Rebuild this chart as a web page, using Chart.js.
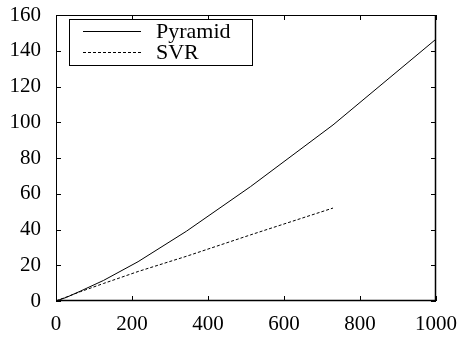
<!DOCTYPE html>
<html><head><meta charset="utf-8">
<script src="https://cdn.jsdelivr.net/npm/chart.js@4/dist/chart.umd.min.js"></script>
<style>html,body{margin:0;padding:0;background:#fff;}#wrap{width:462px;height:343px;}</style>
</head><body><div id="wrap"><canvas id="c" width="462" height="343"></canvas></div>
<script>
const pyramidX = [0, 8, 27, 64, 125, 216, 343, 512, 729, 1000];
const pyramidY = [0, 0.6, 2, 5.5, 11.5, 22, 39, 64, 98.5, 146.5];
const svrX = [0, 8, 27, 64, 125, 216, 343, 512, 729];
const svrY = [0, 0.7, 2.2, 5.2, 9.8, 16.5, 25, 37, 52];
const xTicks = [0, 200, 400, 600, 800, 1000];
const yTicks = [0, 20, 40, 60, 80, 100, 120, 140, 160];
const seriesNames = ["Pyramid", "SVR"];

const FONT = "'Liberation Serif','Times New Roman',serif";

const frame = {
  id: 'frame',
  afterDraw(chart) {
    const {ctx, chartArea: a, scales: {x, y}} = chart;
    ctx.save();
    ctx.strokeStyle = '#000';
    ctx.lineWidth = 1;
    ctx.strokeRect(a.left + 0.5, a.top + 0.5, a.right - a.left - 1, a.bottom - a.top - 1);
    ctx.lineWidth = 1.5;
    ctx.beginPath();
    ctx.moveTo(a.left, a.bottom - 0.5); ctx.lineTo(a.right, a.bottom - 0.5);
    ctx.moveTo(a.right - 0.5, a.top); ctx.lineTo(a.right - 0.5, a.bottom);
    ctx.stroke();
    ctx.lineWidth = 1;
    const t = 5;
    ctx.beginPath();
    xTicks.forEach(v => {
      const px = Math.round(x.getPixelForValue(v)) + 0.5;
      ctx.moveTo(px, a.bottom); ctx.lineTo(px, a.bottom - t);
      ctx.moveTo(px, a.top); ctx.lineTo(px, a.top + t);
    });
    yTicks.forEach(v => {
      const py = Math.round(y.getPixelForValue(v)) + 0.5;
      ctx.moveTo(a.left, py); ctx.lineTo(a.left + t, py);
      ctx.moveTo(a.right, py); ctx.lineTo(a.right - t, py);
    });
    ctx.stroke();
    // legend
    const lx = a.left + 13, ly = a.top + 4, lw = 183, lh = 46;
    ctx.fillStyle = '#fff';
    ctx.fillRect(lx, ly, lw, lh);
    ctx.strokeRect(lx + 0.5, ly + 0.5, lw, lh);
    ctx.font = '22px ' + FONT;
    ctx.fillStyle = '#000';
    ctx.textBaseline = 'middle';
    const rows = [ly + 12, ly + 33];
    chart.data.datasets.forEach((ds, i) => {
      ctx.beginPath();
      ctx.setLineDash(ds.borderDash || []);
      ctx.lineWidth = 1;
      ctx.moveTo(lx + 14, rows[i] + 0.5); ctx.lineTo(lx + 72, rows[i] + 0.5);
      ctx.stroke();
      ctx.setLineDash([]);
      ctx.fillText(ds.label, lx + 87, rows[i] + 1);
    });
    ctx.restore();
  }
};

new Chart(document.getElementById('c'), {
  type: 'line',
  data: {
    datasets: [
      {label: seriesNames[0], data: pyramidX.map((v, i) => ({x: v, y: pyramidY[i]})),
       borderColor: '#000', borderWidth: 1, pointRadius: 0, tension: 0, fill: false},
      {label: seriesNames[1], data: svrX.map((v, i) => ({x: v, y: svrY[i]})),
       borderColor: '#000', borderWidth: 1, borderDash: [3, 2], pointRadius: 0, tension: 0, fill: false}
    ]
  },
  options: {
    responsive: false, animation: false,
    layout: {padding: {left: 0, right: 0, top: 0, bottom: 0}},
    plugins: {legend: {display: false}, tooltip: {enabled: false}},
    scales: {
      x: {type: 'linear', min: 0, max: 1000,
          afterBuildTicks: s => { s.ticks = xTicks.map(v => ({value: v})); },
          afterFit: s => { s.height = 42; s.paddingRight = 26; s.paddingLeft = 0; },
          grid: {display: false, drawTicks: false}, border: {display: false},
          ticks: {color: '#000', font: {family: FONT, size: 21}, padding: 11, maxRotation: 0,
                  callback: v => String(v)}},
      y: {type: 'linear', min: 0, max: 160,
          afterBuildTicks: s => { s.ticks = yTicks.map(v => ({value: v})); },
          afterFit: s => { s.width = 56; s.paddingTop = 15; s.paddingBottom = 0; },
          grid: {display: false, drawTicks: false}, border: {display: false},
          ticks: {color: '#000', font: {family: FONT, size: 21}, padding: 15,
                  callback: v => String(v)}}
    }
  },
  plugins: [frame]
});
</script></body></html>
